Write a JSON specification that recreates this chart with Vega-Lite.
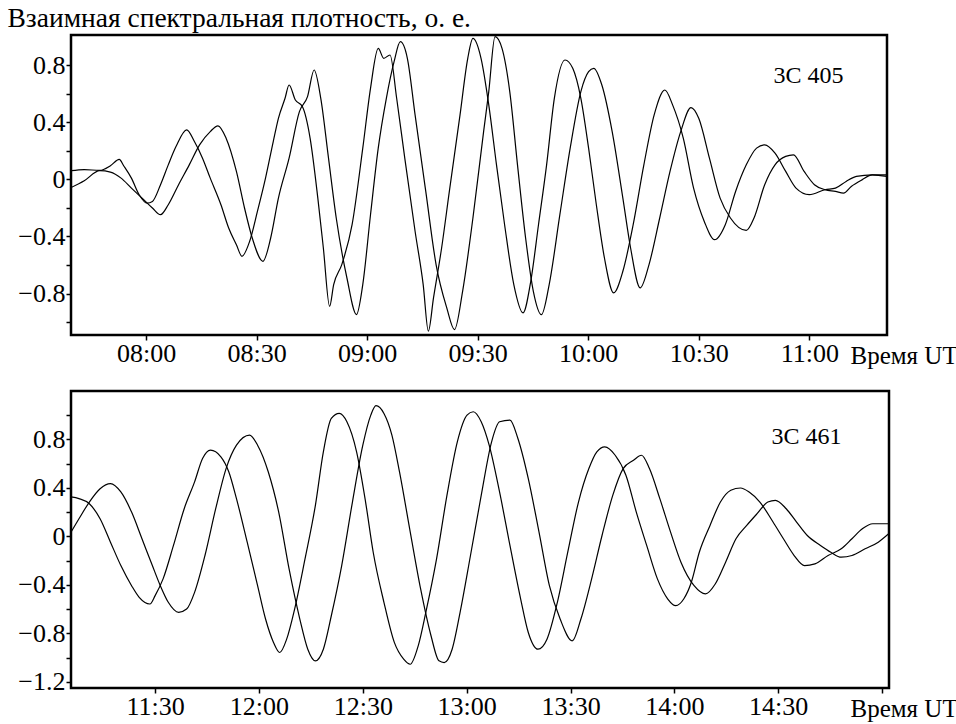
{
  "$schema": "https://vega.github.io/schema/vega-lite/v6.json",
  "padding": {"left": 5, "top": 2, "right": 0, "bottom": 0},
  "background": "white",
  "spacing": 19,
  "config": {
    "font": "Liberation Serif",
    "view": {"stroke": "black", "strokeWidth": 2.5},
    "axis": {"grid": false, "domain": false, "tickColor": "black", "tickWidth": 1.5, "tickSize": 5, "labelColor": "black", "labelFont": "Liberation Serif", "labelFontSize": 26, "titleColor": "black", "titleFont": "Liberation Serif", "titleFontWeight": "normal", "labelOverlap": false, "labelBound": false},
    "axisX": {"labelPadding": 0, "labelFlush": false},
    "axisY": {"labelPadding": 1}
  },
  "datasets": {
    "top": [
      {"s":"a","t":459.6,"v":0.06},{"s":"a","t":463.2,"v":0.068},{"s":"a","t":467.4,"v":0.062},{"s":"a","t":470.3,"v":0.095},{"s":"a","t":472.7,"v":0.14},{"s":"a","t":473.9,"v":0.095},{"s":"a","t":476.0,"v":0.008},{"s":"a","t":478.1,"v":-0.108},{"s":"a","t":480.3,"v":-0.167},{"s":"a","t":481.7,"v":-0.155},{"s":"a","t":483.9,"v":-0.038},{"s":"a","t":486.0,"v":0.101},{"s":"a","t":488.1,"v":0.229},{"s":"a","t":491.0,"v":0.346},{"s":"a","t":493.1,"v":0.264},{"s":"a","t":495.3,"v":0.148},{"s":"a","t":497.4,"v":0.008},{"s":"a","t":500.3,"v":-0.178},{"s":"a","t":502.4,"v":-0.341},{"s":"a","t":504.5,"v":-0.458},{"s":"a","t":506.0,"v":-0.539},{"s":"a","t":508.1,"v":-0.434},{"s":"a","t":510.2,"v":-0.225},{"s":"a","t":512.4,"v":0.008},{"s":"a","t":514.5,"v":0.264},{"s":"a","t":515.9,"v":0.427},{"s":"a","t":517.7,"v":0.567},{"s":"a","t":518.8,"v":0.66},{"s":"a","t":520.5,"v":0.555},{"s":"a","t":522.4,"v":0.509},{"s":"a","t":524.5,"v":0.288},{"s":"a","t":526.6,"v":-0.132},{"s":"a","t":528.1,"v":-0.481},{"s":"a","t":529.8,"v":-0.889},{"s":"a","t":530.9,"v":-0.737},{"s":"a","t":533.1,"v":-0.597},{"s":"a","t":535.9,"v":-0.318},{"s":"a","t":538.8,"v":0.218},{"s":"a","t":540.9,"v":0.637},{"s":"a","t":543.0,"v":0.916},{"s":"a","t":544.5,"v":0.847},{"s":"a","t":546.2,"v":0.87},{"s":"a","t":548.0,"v":0.567},{"s":"a","t":550.2,"v":0.148},{"s":"a","t":553.0,"v":-0.364},{"s":"a","t":555.2,"v":-0.737},{"s":"a","t":556.6,"v":-1.063},{"s":"a","t":558.0,"v":-0.83},{"s":"a","t":560.2,"v":-0.481},{"s":"a","t":562.3,"v":-0.085},{"s":"a","t":565.2,"v":0.451},{"s":"a","t":567.3,"v":0.847},{"s":"a","t":568.7,"v":0.986},{"s":"a","t":570.9,"v":0.847},{"s":"a","t":573.0,"v":0.521},{"s":"a","t":575.1,"v":0.101},{"s":"a","t":577.3,"v":-0.318},{"s":"a","t":579.8,"v":-0.737},{"s":"a","t":582.3,"v":-0.935},{"s":"a","t":584.4,"v":-0.714},{"s":"a","t":586.5,"v":-0.318},{"s":"a","t":588.7,"v":0.101},{"s":"a","t":590.8,"v":0.567},{"s":"a","t":593.7,"v":0.835},{"s":"a","t":595.8,"v":0.777},{"s":"a","t":598.0,"v":0.567},{"s":"a","t":600.1,"v":0.218},{"s":"a","t":602.2,"v":-0.178},{"s":"a","t":604.4,"v":-0.551},{"s":"a","t":606.9,"v":-0.795},{"s":"a","t":609.4,"v":-0.644},{"s":"a","t":612.2,"v":-0.318},{"s":"a","t":615.1,"v":0.101},{"s":"a","t":617.9,"v":0.451},{"s":"a","t":620.8,"v":0.625},{"s":"a","t":622.9,"v":0.521},{"s":"a","t":625.8,"v":0.288},{"s":"a","t":628.6,"v":-0.062},{"s":"a","t":631.5,"v":-0.295},{"s":"a","t":634.3,"v":-0.423},{"s":"a","t":637.2,"v":-0.318},{"s":"a","t":640.0,"v":-0.085},{"s":"a","t":642.9,"v":0.101},{"s":"a","t":645.7,"v":0.218},{"s":"a","t":647.9,"v":0.241},{"s":"a","t":650.7,"v":0.183},{"s":"a","t":653.6,"v":0.055},{"s":"a","t":656.4,"v":-0.062},{"s":"a","t":660.0,"v":-0.108},{"s":"a","t":664.3,"v":-0.073},{"s":"a","t":667.1,"v":-0.062},{"s":"a","t":670.0,"v":-0.015},{"s":"a","t":672.8,"v":0.02},{"s":"a","t":677.1,"v":0.031},{"s":"a","t":681.1,"v":0.02},
      {"s":"b","t":459.6,"v":-0.058},{"s":"b","t":463.2,"v":-0.01},{"s":"b","t":467.4,"v":0.06},{"s":"b","t":470.3,"v":0.05},{"s":"b","t":473.2,"v":0.008},{"s":"b","t":476.0,"v":-0.062},{"s":"b","t":478.9,"v":-0.132},{"s":"b","t":481.7,"v":-0.201},{"s":"b","t":483.9,"v":-0.248},{"s":"b","t":486.0,"v":-0.178},{"s":"b","t":488.8,"v":-0.038},{"s":"b","t":491.7,"v":0.101},{"s":"b","t":494.5,"v":0.241},{"s":"b","t":497.4,"v":0.334},{"s":"b","t":499.5,"v":0.374},{"s":"b","t":501.7,"v":0.288},{"s":"b","t":504.5,"v":0.055},{"s":"b","t":506.7,"v":-0.201},{"s":"b","t":508.8,"v":-0.411},{"s":"b","t":511.7,"v":-0.574},{"s":"b","t":513.8,"v":-0.411},{"s":"b","t":515.9,"v":-0.132},{"s":"b","t":518.8,"v":0.148},{"s":"b","t":521.6,"v":0.474},{"s":"b","t":523.8,"v":0.579},{"s":"b","t":525.6,"v":0.765},{"s":"b","t":527.4,"v":0.567},{"s":"b","t":529.5,"v":0.148},{"s":"b","t":531.6,"v":-0.271},{"s":"b","t":534.5,"v":-0.691},{"s":"b","t":537.1,"v":-0.947},{"s":"b","t":538.8,"v":-0.737},{"s":"b","t":540.9,"v":-0.248},{"s":"b","t":543.0,"v":0.218},{"s":"b","t":545.2,"v":0.567},{"s":"b","t":547.3,"v":0.823},{"s":"b","t":549.0,"v":0.963},{"s":"b","t":550.9,"v":0.847},{"s":"b","t":553.0,"v":0.451},{"s":"b","t":555.9,"v":-0.085},{"s":"b","t":558.7,"v":-0.597},{"s":"b","t":561.6,"v":-0.9},{"s":"b","t":563.7,"v":-1.052},{"s":"b","t":565.9,"v":-0.784},{"s":"b","t":568.7,"v":-0.271},{"s":"b","t":571.6,"v":0.334},{"s":"b","t":573.0,"v":0.614},{"s":"b","t":574.7,"v":0.998},{"s":"b","t":576.6,"v":0.916},{"s":"b","t":578.7,"v":0.614},{"s":"b","t":580.8,"v":0.101},{"s":"b","t":583.0,"v":-0.411},{"s":"b","t":585.1,"v":-0.784},{"s":"b","t":587.3,"v":-0.947},{"s":"b","t":589.4,"v":-0.737},{"s":"b","t":592.3,"v":-0.248},{"s":"b","t":595.1,"v":0.218},{"s":"b","t":598.0,"v":0.614},{"s":"b","t":600.1,"v":0.753},{"s":"b","t":601.5,"v":0.777},{"s":"b","t":603.7,"v":0.66},{"s":"b","t":606.5,"v":0.334},{"s":"b","t":609.4,"v":-0.132},{"s":"b","t":611.5,"v":-0.481},{"s":"b","t":614.1,"v":-0.76},{"s":"b","t":616.5,"v":-0.597},{"s":"b","t":619.4,"v":-0.271},{"s":"b","t":622.2,"v":0.055},{"s":"b","t":625.1,"v":0.334},{"s":"b","t":627.9,"v":0.502},{"s":"b","t":630.0,"v":0.427},{"s":"b","t":632.9,"v":0.148},{"s":"b","t":635.8,"v":-0.132},{"s":"b","t":638.6,"v":-0.271},{"s":"b","t":642.9,"v":-0.358},{"s":"b","t":645.0,"v":-0.271},{"s":"b","t":647.9,"v":-0.038},{"s":"b","t":650.7,"v":0.101},{"s":"b","t":653.6,"v":0.16},{"s":"b","t":655.7,"v":0.171},{"s":"b","t":658.6,"v":0.055},{"s":"b","t":661.4,"v":-0.038},{"s":"b","t":664.3,"v":-0.073},{"s":"b","t":667.1,"v":-0.085},{"s":"b","t":669.3,"v":-0.097},{"s":"b","t":671.4,"v":-0.05},{"s":"b","t":674.3,"v":-0.004},{"s":"b","t":677.1,"v":0.031},{"s":"b","t":681.1,"v":0.031}
    ],
    "bottom": [
      {"s":"a","t":665.7,"v":0.326},{"s":"a","t":668.0,"v":0.312},{"s":"a","t":671.0,"v":0.27},{"s":"a","t":674.1,"v":0.146},{"s":"a","t":677.1,"v":-0.047},{"s":"a","t":680.1,"v":-0.24},{"s":"a","t":683.2,"v":-0.406},{"s":"a","t":685.4,"v":-0.502},{"s":"a","t":688.5,"v":-0.557},{"s":"a","t":690.0,"v":-0.488},{"s":"a","t":692.3,"v":-0.35},{"s":"a","t":695.3,"v":-0.074},{"s":"a","t":698.4,"v":0.229},{"s":"a","t":701.4,"v":0.45},{"s":"a","t":703.7,"v":0.643},{"s":"a","t":706.0,"v":0.712},{"s":"a","t":709.0,"v":0.657},{"s":"a","t":711.3,"v":0.532},{"s":"a","t":713.5,"v":0.312},{"s":"a","t":716.6,"v":-0.047},{"s":"a","t":719.6,"v":-0.406},{"s":"a","t":721.9,"v":-0.681},{"s":"a","t":724.2,"v":-0.874},{"s":"a","t":726.0,"v":-0.957},{"s":"a","t":728.0,"v":-0.847},{"s":"a","t":730.3,"v":-0.599},{"s":"a","t":733.3,"v":-0.185},{"s":"a","t":736.3,"v":0.257},{"s":"a","t":738.6,"v":0.698},{"s":"a","t":740.9,"v":0.974},{"s":"a","t":743.2,"v":1.015},{"s":"a","t":745.4,"v":0.946},{"s":"a","t":748.2,"v":0.698},{"s":"a","t":750.8,"v":0.284},{"s":"a","t":753.0,"v":-0.13},{"s":"a","t":756.1,"v":-0.543},{"s":"a","t":759.1,"v":-0.874},{"s":"a","t":761.8,"v":-1.012},{"s":"a","t":763.7,"v":-1.054},{"s":"a","t":766.0,"v":-0.902},{"s":"a","t":768.2,"v":-0.626},{"s":"a","t":771.3,"v":-0.185},{"s":"a","t":774.3,"v":0.339},{"s":"a","t":777.3,"v":0.781},{"s":"a","t":780.1,"v":1.001},{"s":"a","t":781.9,"v":1.029},{"s":"a","t":784.2,"v":0.946},{"s":"a","t":786.5,"v":0.753},{"s":"a","t":789.5,"v":0.367},{"s":"a","t":792.5,"v":-0.074},{"s":"a","t":795.6,"v":-0.516},{"s":"a","t":797.8,"v":-0.792},{"s":"a","t":800.6,"v":-0.93},{"s":"a","t":803.2,"v":-0.847},{"s":"a","t":806.2,"v":-0.543},{"s":"a","t":809.2,"v":-0.13},{"s":"a","t":812.3,"v":0.284},{"s":"a","t":815.3,"v":0.56},{"s":"a","t":817.6,"v":0.698},{"s":"a","t":819.9,"v":0.739},{"s":"a","t":822.9,"v":0.67},{"s":"a","t":826.0,"v":0.505},{"s":"a","t":829.0,"v":0.201},{"s":"a","t":832.0,"v":-0.074},{"s":"a","t":835.1,"v":-0.35},{"s":"a","t":838.1,"v":-0.516},{"s":"a","t":840.4,"v":-0.571},{"s":"a","t":842.7,"v":-0.516},{"s":"a","t":844.9,"v":-0.378},{"s":"a","t":847.2,"v":-0.13},{"s":"a","t":850.3,"v":0.091},{"s":"a","t":853.3,"v":0.284},{"s":"a","t":856.3,"v":0.381},{"s":"a","t":859.1,"v":0.4},{"s":"a","t":861.6,"v":0.367},{"s":"a","t":864.7,"v":0.284},{"s":"a","t":868.5,"v":0.119},{"s":"a","t":871.5,"v":-0.019},{"s":"a","t":874.6,"v":-0.157},{"s":"a","t":877.6,"v":-0.24},{"s":"a","t":880.6,"v":-0.226},{"s":"a","t":884.4,"v":-0.157},{"s":"a","t":888.2,"v":-0.102},{"s":"a","t":891.3,"v":-0.019},{"s":"a","t":894.3,"v":0.063},{"s":"a","t":897.3,"v":0.105},{"s":"a","t":901.9,"v":0.105},
      {"s":"b","t":665.7,"v":0.036},{"s":"b","t":668.0,"v":0.146},{"s":"b","t":671.0,"v":0.284},{"s":"b","t":674.1,"v":0.394},{"s":"b","t":677.1,"v":0.436},{"s":"b","t":680.1,"v":0.367},{"s":"b","t":683.2,"v":0.201},{"s":"b","t":686.2,"v":-0.019},{"s":"b","t":689.2,"v":-0.24},{"s":"b","t":691.5,"v":-0.406},{"s":"b","t":693.8,"v":-0.543},{"s":"b","t":696.8,"v":-0.626},{"s":"b","t":699.1,"v":-0.599},{"s":"b","t":701.4,"v":-0.461},{"s":"b","t":704.4,"v":-0.157},{"s":"b","t":707.5,"v":0.229},{"s":"b","t":710.5,"v":0.56},{"s":"b","t":713.5,"v":0.753},{"s":"b","t":717.3,"v":0.836},{"s":"b","t":719.6,"v":0.753},{"s":"b","t":722.7,"v":0.532},{"s":"b","t":725.7,"v":0.201},{"s":"b","t":728.7,"v":-0.268},{"s":"b","t":731.8,"v":-0.681},{"s":"b","t":734.1,"v":-0.93},{"s":"b","t":736.3,"v":-1.026},{"s":"b","t":738.6,"v":-0.93},{"s":"b","t":740.9,"v":-0.654},{"s":"b","t":743.9,"v":-0.24},{"s":"b","t":747.0,"v":0.284},{"s":"b","t":750.0,"v":0.753},{"s":"b","t":752.3,"v":1.001},{"s":"b","t":753.8,"v":1.079},{"s":"b","t":756.1,"v":1.015},{"s":"b","t":758.4,"v":0.836},{"s":"b","t":760.6,"v":0.532},{"s":"b","t":763.7,"v":0.036},{"s":"b","t":766.7,"v":-0.433},{"s":"b","t":769.7,"v":-0.819},{"s":"b","t":772.0,"v":-1.026},{"s":"b","t":773.5,"v":-1.04},{"s":"b","t":775.8,"v":-0.93},{"s":"b","t":778.1,"v":-0.626},{"s":"b","t":781.1,"v":-0.157},{"s":"b","t":784.2,"v":0.339},{"s":"b","t":787.2,"v":0.781},{"s":"b","t":789.5,"v":0.946},{"s":"b","t":792.5,"v":0.96},{"s":"b","t":794.8,"v":0.808},{"s":"b","t":797.8,"v":0.477},{"s":"b","t":800.9,"v":0.036},{"s":"b","t":803.9,"v":-0.406},{"s":"b","t":807.0,"v":-0.681},{"s":"b","t":810.5,"v":-0.861},{"s":"b","t":813.0,"v":-0.681},{"s":"b","t":816.1,"v":-0.35},{"s":"b","t":819.1,"v":0.008},{"s":"b","t":822.2,"v":0.339},{"s":"b","t":825.2,"v":0.56},{"s":"b","t":828.2,"v":0.629},{"s":"b","t":830.5,"v":0.67},{"s":"b","t":832.8,"v":0.56},{"s":"b","t":835.8,"v":0.312},{"s":"b","t":838.9,"v":0.036},{"s":"b","t":841.9,"v":-0.212},{"s":"b","t":845.7,"v":-0.406},{"s":"b","t":849.0,"v":-0.474},{"s":"b","t":851.8,"v":-0.392},{"s":"b","t":854.8,"v":-0.212},{"s":"b","t":857.8,"v":-0.019},{"s":"b","t":860.9,"v":0.091},{"s":"b","t":863.9,"v":0.188},{"s":"b","t":867.0,"v":0.284},{"s":"b","t":869.2,"v":0.298},{"s":"b","t":872.3,"v":0.229},{"s":"b","t":875.3,"v":0.119},{"s":"b","t":878.4,"v":0.008},{"s":"b","t":882.2,"v":-0.074},{"s":"b","t":885.2,"v":-0.13},{"s":"b","t":888.2,"v":-0.171},{"s":"b","t":891.3,"v":-0.157},{"s":"b","t":895.1,"v":-0.102},{"s":"b","t":898.9,"v":-0.047},{"s":"b","t":901.9,"v":0.022}
    ],
    "labels": [
      {"p":"top","t":659.8,"v":0.72,"name":"3C 405"},
      {"p":"bottom","t":878.2,"v":0.82,"name":"3C 461"}
    ]
  },
  "vconcat": [
    {
      "width": 816,
      "height": 300,
      "layer": [
        {
          "data": {"name": "top"},
          "mark": {"type": "line", "color": "black", "strokeWidth": 1.2, "interpolate": "monotone", "clip": true},
          "encoding": {
            "x": {"field": "t", "type": "quantitative", "scale": {"domain": [459.6, 681.1], "nice": false, "zero": false},
                  "axis": {"values": [480, 510, 540, 570, 600, 630, 660], "tickCount": 30, "labelExpr": "utcFormat(datum.value*60000, '%H:%M')", "title": "Время UT", "titleX": 779, "titleY": 28, "titleAlign": "left", "titleAnchor": "start", "titleBaseline": "alphabetic", "titleFontSize": 25}},
            "y": {"field": "v", "type": "quantitative", "scale": {"domain": [-1.09, 1.01], "nice": false, "zero": false},
                  "axis": {"values": [-1.0, -0.8, -0.6, -0.4, -0.2, 0, 0.2, 0.4, 0.6, 0.8], "tickCount": 30, "labelOverlap": false, "labelExpr": "round(datum.value*10) % 4 == 0 ? format(datum.value, '~g') : ''", "title": "Взаимная спектральная плотность, о. е.", "titleAngle": 0, "titleAlign": "left", "titleAnchor": "start", "titleBaseline": "alphabetic", "titleX": -64, "titleY": -9, "titleFontSize": 27.5}},
            "detail": {"field": "s"}
          }
        },
        {
          "data": {"name": "labels"},
          "transform": [{"filter": "datum.p == 'top'"}],
          "mark": {"type": "text", "font": "Liberation Serif", "fontSize": 24, "color": "black", "align": "center", "baseline": "middle"},
          "encoding": {
            "x": {"field": "t", "type": "quantitative"},
            "y": {"field": "v", "type": "quantitative"},
            "text": {"field": "name"}
          }
        }
      ]
    },
    {
      "width": 818,
      "height": 297,
      "layer": [
        {
          "data": {"name": "bottom"},
          "mark": {"type": "line", "color": "black", "strokeWidth": 1.2, "interpolate": "monotone", "clip": true},
          "encoding": {
            "x": {"field": "t", "type": "quantitative", "scale": {"domain": [665.7, 902], "nice": false, "zero": false},
                  "axis": {"values": [690, 720, 750, 780, 810, 840, 870, 900], "tickCount": 30, "labelExpr": "datum.value > 890 ? '' : utcFormat(datum.value*60000, '%H:%M')", "title": "Время UT", "titleX": 779, "titleY": 28, "titleAlign": "left", "titleAnchor": "start", "titleBaseline": "alphabetic", "titleFontSize": 25}},
            "y": {"field": "v", "type": "quantitative", "scale": {"domain": [-1.25, 1.2], "nice": false, "zero": false},
                  "axis": {"values": [-1.2, -1.0, -0.8, -0.6, -0.4, -0.2, 0, 0.2, 0.4, 0.6, 0.8, 1.0], "tickCount": 30, "labelOverlap": false, "labelExpr": "round(datum.value*10) % 4 == 0 ? format(datum.value, '~g') : ''", "title": ""}},
            "detail": {"field": "s"}
          }
        },
        {
          "data": {"name": "labels"},
          "transform": [{"filter": "datum.p == 'bottom'"}],
          "mark": {"type": "text", "font": "Liberation Serif", "fontSize": 24, "color": "black", "align": "center", "baseline": "middle"},
          "encoding": {
            "x": {"field": "t", "type": "quantitative"},
            "y": {"field": "v", "type": "quantitative"},
            "text": {"field": "name"}
          }
        }
      ]
    }
  ]
}
